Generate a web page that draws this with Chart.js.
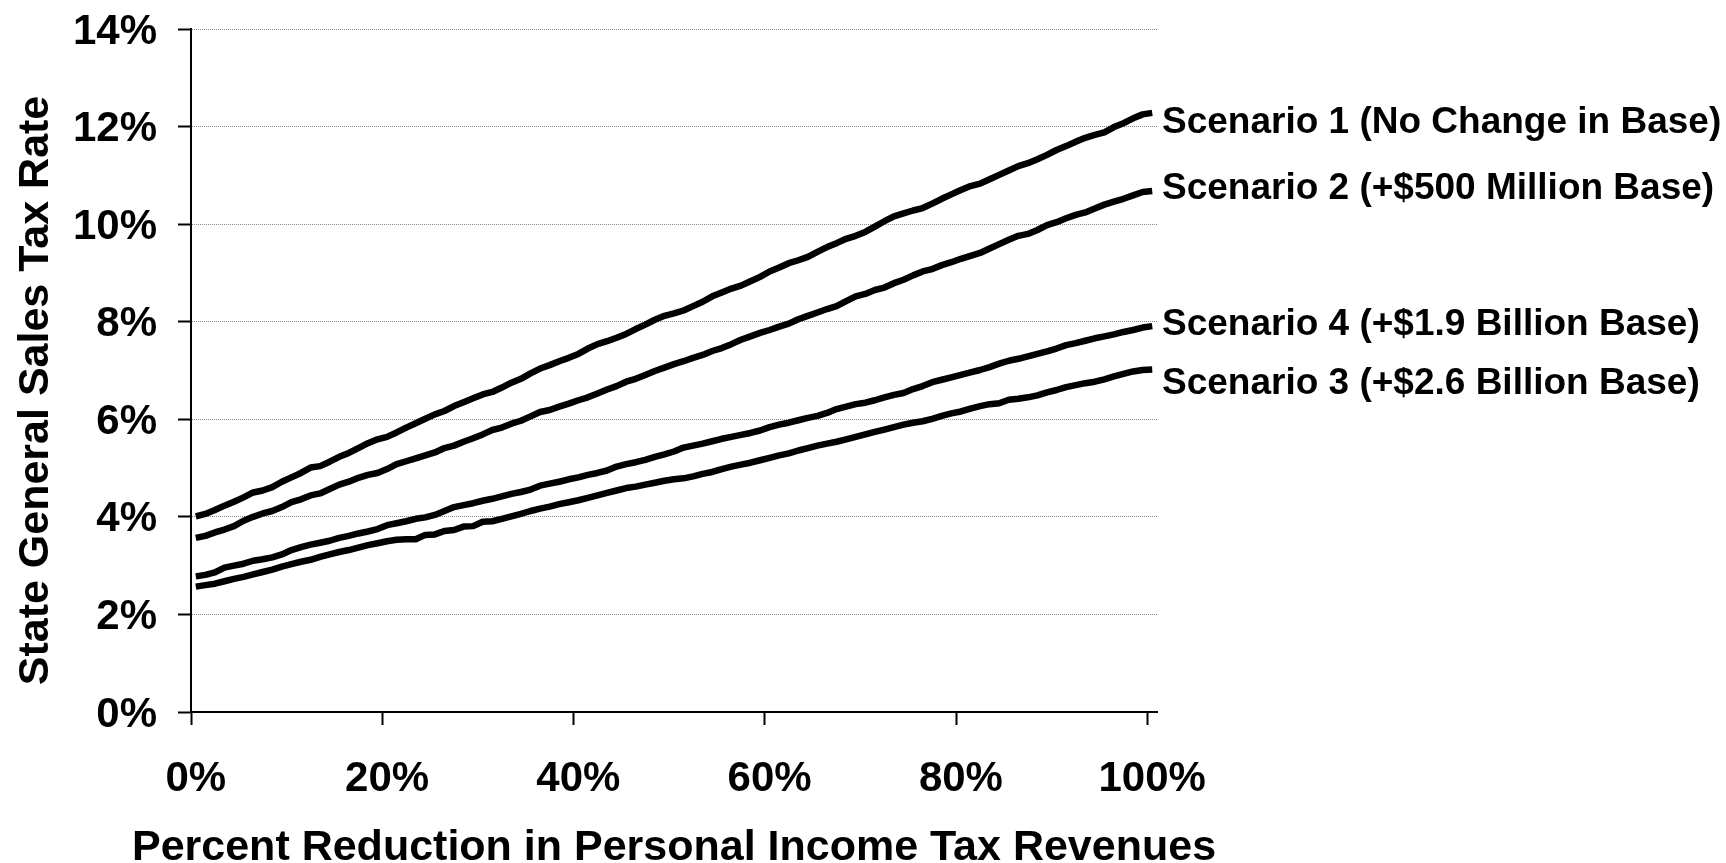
<!DOCTYPE html>
<html>
<head>
<meta charset="utf-8">
<title>State General Sales Tax Rate by Scenario</title>
<script src="https://cdn.jsdelivr.net/npm/chart.js@4/dist/chart.umd.min.js"></script>
<style>
  html, body { margin: 0; padding: 0; background: #fff; }
  #wrap { width: 1726px; height: 863px; }
</style>
</head>
<body>
<div id="wrap"><canvas id="chart" width="1726" height="863"></canvas></div>
<script>
// Percent reduction in personal income tax revenues (one category per point)
const reductionPct = Array.from({ length: 101 }, (_, i) => i);

// Required state general sales tax rate (%) at each reduction level
const scenario1 = [
  4.01, 4.06, 4.14, 4.23, 4.31, 4.40, 4.50, 4.54, 4.61, 4.72,
  4.81, 4.90, 5.01, 5.04, 5.13, 5.23, 5.31, 5.41, 5.51, 5.59,
  5.64, 5.73, 5.83, 5.92, 6.01, 6.10, 6.17, 6.27, 6.35, 6.43,
  6.51, 6.56, 6.65, 6.75, 6.83, 6.94, 7.04, 7.11, 7.19, 7.26,
  7.34, 7.45, 7.54, 7.60, 7.67, 7.75, 7.85, 7.94, 8.04, 8.12,
  8.17, 8.23, 8.32, 8.41, 8.52, 8.60, 8.68, 8.74, 8.83, 8.92,
  9.03, 9.11, 9.20, 9.26, 9.33, 9.43, 9.53, 9.61, 9.70, 9.76,
  9.84, 9.95, 10.06, 10.16, 10.22, 10.28, 10.33, 10.42, 10.52, 10.61,
  10.70, 10.78, 10.83, 10.92, 11.01, 11.10, 11.19, 11.25, 11.33, 11.42,
  11.52, 11.60, 11.69, 11.77, 11.83, 11.88, 11.99, 12.07, 12.17, 12.25,
  12.28
];
const scenario2 = [
  3.57, 3.61, 3.68, 3.74, 3.81, 3.92, 4.00, 4.07, 4.12, 4.20,
  4.30, 4.36, 4.44, 4.48, 4.57, 4.66, 4.72, 4.80, 4.86, 4.90,
  4.98, 5.08, 5.14, 5.20, 5.26, 5.32, 5.41, 5.46, 5.54, 5.61,
  5.69, 5.78, 5.83, 5.91, 5.97, 6.06, 6.15, 6.19, 6.26, 6.32,
  6.39, 6.45, 6.53, 6.61, 6.68, 6.77, 6.83, 6.91, 6.99, 7.06,
  7.13, 7.19, 7.26, 7.32, 7.40, 7.46, 7.54, 7.63, 7.70, 7.77,
  7.83, 7.90, 7.96, 8.05, 8.12, 8.19, 8.26, 8.32, 8.42, 8.52,
  8.57, 8.65, 8.70, 8.79, 8.86, 8.95, 9.03, 9.08, 9.16, 9.22,
  9.29, 9.35, 9.41, 9.50, 9.59, 9.68, 9.76, 9.80, 9.88, 9.98,
  10.04, 10.12, 10.19, 10.24, 10.32, 10.40, 10.46, 10.52, 10.59, 10.66,
  10.68
];
const scenario3 = [
  2.57, 2.60, 2.63, 2.68, 2.73, 2.77, 2.82, 2.87, 2.92, 2.98,
  3.03, 3.08, 3.12, 3.18, 3.23, 3.28, 3.32, 3.37, 3.42, 3.46,
  3.50, 3.53, 3.54, 3.54, 3.63, 3.64, 3.71, 3.73, 3.80, 3.81,
  3.90, 3.91, 3.96, 4.01, 4.06, 4.12, 4.17, 4.21, 4.26, 4.30,
  4.34, 4.39, 4.44, 4.49, 4.54, 4.59, 4.62, 4.66, 4.70, 4.74,
  4.77, 4.79, 4.83, 4.88, 4.92, 4.98, 5.03, 5.07, 5.11, 5.16,
  5.21, 5.26, 5.30, 5.36, 5.41, 5.46, 5.50, 5.54, 5.59, 5.64,
  5.69, 5.74, 5.79, 5.84, 5.89, 5.93, 5.96, 6.01, 6.07, 6.12,
  6.16, 6.22, 6.27, 6.31, 6.33, 6.40, 6.42, 6.45, 6.49, 6.55,
  6.60, 6.66, 6.70, 6.74, 6.77, 6.82, 6.88, 6.93, 6.98, 7.01,
  7.02
];
const scenario4 = [
  2.78, 2.81, 2.86, 2.96, 3.00, 3.04, 3.10, 3.13, 3.17, 3.23,
  3.32, 3.38, 3.43, 3.47, 3.51, 3.57, 3.61, 3.66, 3.70, 3.75,
  3.83, 3.87, 3.91, 3.96, 3.99, 4.04, 4.12, 4.20, 4.24, 4.28,
  4.33, 4.37, 4.42, 4.47, 4.51, 4.56, 4.64, 4.68, 4.72, 4.77,
  4.81, 4.86, 4.90, 4.95, 5.03, 5.08, 5.12, 5.17, 5.23, 5.28,
  5.34, 5.42, 5.46, 5.50, 5.55, 5.60, 5.64, 5.68, 5.72, 5.77,
  5.84, 5.89, 5.93, 5.98, 6.03, 6.07, 6.13, 6.21, 6.26, 6.31,
  6.34, 6.39, 6.45, 6.50, 6.54, 6.62, 6.68, 6.76, 6.81, 6.86,
  6.91, 6.96, 7.01, 7.07, 7.14, 7.20, 7.24, 7.29, 7.34, 7.39,
  7.45, 7.52, 7.56, 7.61, 7.66, 7.70, 7.74, 7.79, 7.83, 7.88,
  7.91
];

// Series names, written beside the right end of each line
const seriesNames = [
  'Scenario 1 (No Change in Base)',
  'Scenario 2 (+$500 Million Base)',
  'Scenario 4 (+$1.9 Billion Base)',
  'Scenario 3 (+$2.6 Billion Base)'
];
// Rate (%) on the y scale at which each name is vertically centred
const nameRates = [12.14, 10.79, 7.99, 6.78];

const xAxisTitle = 'Percent Reduction in Personal Income Tax Revenues';
const yAxisTitle = 'State General Sales Tax Rate';
const xLabelEvery = 20;   // label and tick every 20 percentage points
const yMax = 14, yStep = 2;

const FAMILY = '"Liberation Sans", Arial, Helvetica, sans-serif';
Chart.defaults.font.family = FAMILY;
Chart.defaults.color = '#000';

// Axis titles and the series names drawn as plain canvas text
const chartText = {
  id: 'chartText',
  afterDraw(chart) {
    const { ctx, chartArea, scales } = chart;
    ctx.save();
    ctx.fillStyle = '#000';
    ctx.font = `bold 43px ${FAMILY}`;
    ctx.textAlign = 'center';
    ctx.textBaseline = 'alphabetic';
    ctx.fillText(xAxisTitle, (chartArea.left + chartArea.right) / 2, chart.height - 3);

    ctx.save();
    ctx.translate(chartArea.left - 143, (chartArea.top + chartArea.bottom) / 2 + 20);
    ctx.rotate(-Math.PI / 2);
    ctx.fillText(yAxisTitle, 0, 0);
    ctx.restore();

    const size = 37;
    ctx.font = `bold ${size}px ${FAMILY}`;
    ctx.textAlign = 'left';
    seriesNames.forEach((name, k) => {
      const y = scales.y.getPixelForValue(nameRates[k]) + 0.358 * size;
      ctx.fillText(name, chartArea.right + 5, y);
    });
    ctx.restore();
  }
};

const lineStyle = {
  borderColor: '#000',
  borderWidth: 6.5,
  pointRadius: 0,
  tension: 0,
  fill: false,
  borderJoinStyle: 'round'
};

new Chart(document.getElementById('chart'), {
  type: 'line',
  data: {
    labels: reductionPct,
    datasets: [
      { label: seriesNames[0], data: scenario1, ...lineStyle },
      { label: seriesNames[1], data: scenario2, ...lineStyle },
      { label: seriesNames[2], data: scenario4, ...lineStyle },
      { label: seriesNames[3], data: scenario3, ...lineStyle }
    ]
  },
  options: {
    responsive: false,
    devicePixelRatio: 1,
    animation: false,
    layout: { autoPadding: false, padding: { left: 0, top: 29, right: 569, bottom: 0 } },
    plugins: { legend: { display: false }, tooltip: { enabled: false } },
    scales: {
      x: {
        type: 'category',
        offset: true,
        grid: {
          offset: true,
          drawOnChartArea: false,
          drawTicks: true,
          tickLength: 13,
          tickWidth: 2,
          tickColor: c => (c.index % xLabelEvery === 0 ? '#000' : 'rgba(0,0,0,0)')
        },
        border: { color: '#000', width: 2 },
        ticks: {
          autoSkip: false,
          maxRotation: 0,
          minRotation: 0,
          padding: 29,
          color: '#000',
          font: { size: 42, weight: 'bold' },
          callback: (val, idx) => (idx % xLabelEvery === 0 ? reductionPct[idx] + '%' : '')
        },
        afterFit(s) {
          s.height = 151;
          s.paddingLeft = 0;
          s.paddingRight = 0;
        }
      },
      y: {
        min: 0,
        max: yMax,
        grid: {
          color: c => (c.tick && c.tick.value === 0 ? 'rgba(0,0,0,0)' : '#8a8a8a'),
          lineWidth: 1,
          tickLength: 13,
          tickWidth: 2,
          tickColor: '#000'
        },
        border: { color: '#000', width: 2, dash: [1, 1] },
        ticks: {
          stepSize: yStep,
          padding: 21,
          labelOffset: 3,
          color: '#000',
          font: { size: 42, weight: 'bold' },
          callback: v => v + '%'
        },
        afterFit(s) {
          s.width = 191;
          s.paddingTop = 0;
          s.paddingBottom = 0;
        }
      }
    }
  },
  plugins: [chartText]
});
</script>
</body>
</html>
